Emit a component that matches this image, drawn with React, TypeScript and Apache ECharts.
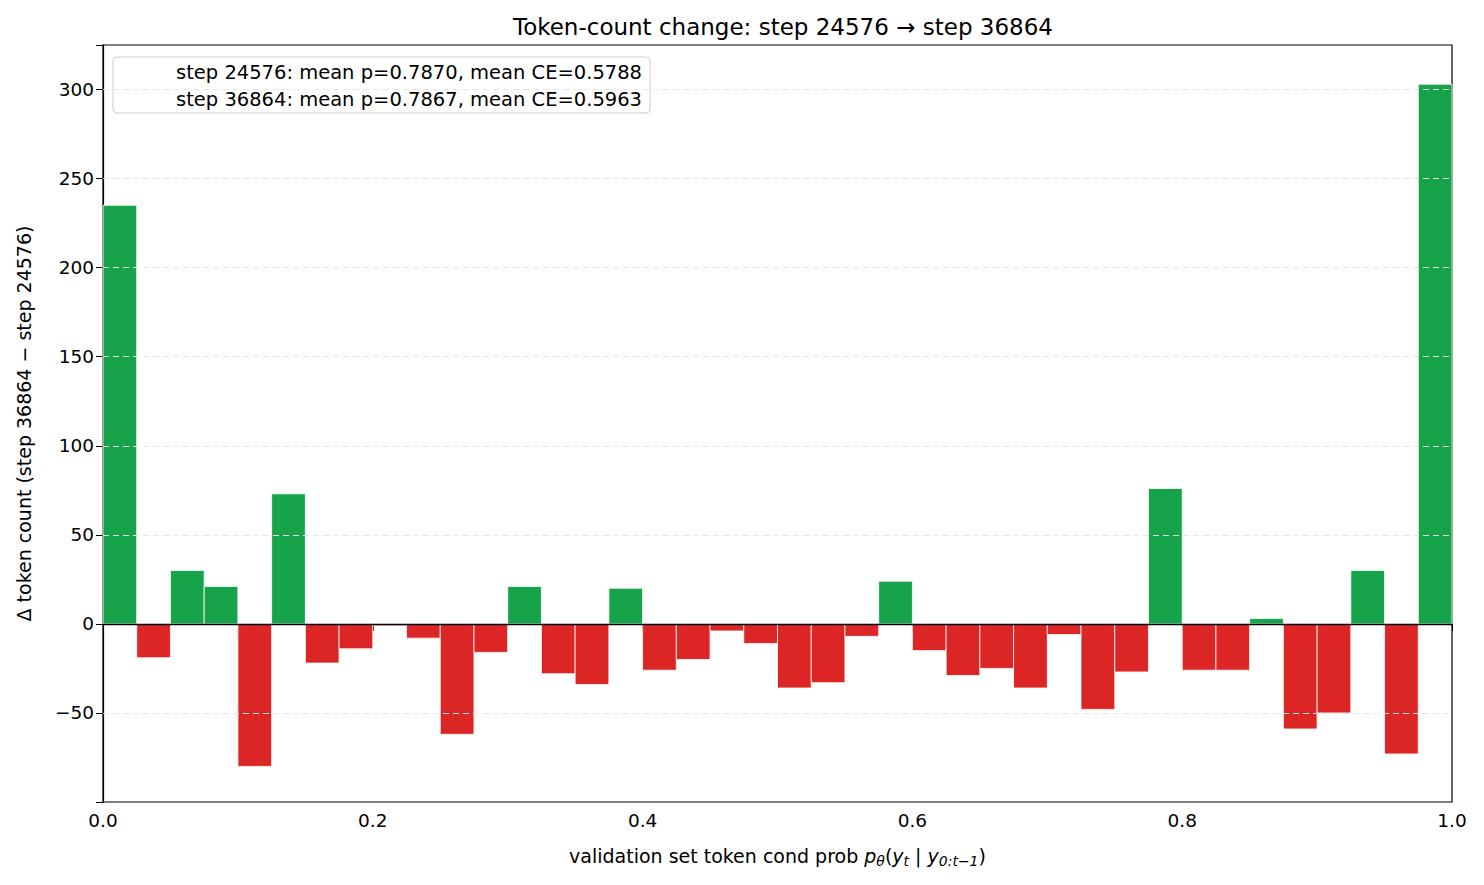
import React, { useRef, useEffect } from 'react'
import * as echarts from 'echarts'

const binWidth = 0.025
const deltas = [
  235, -19, 30, 21, -80, 73, -22, -14, -1, -8,
  -62, -16, 21, -28, -34, 20, -26, -20, -4, -11,
  -36, -33, -7, 24, -15, -29, -25, -36, -6, -48,
  -27, 76, -26, -26, 3, -59, -50, 30, -73, 303,
]
const legendLabels = [
  'step 24576: mean p=0.7870, mean CE=0.5788',
  'step 36864: mean p=0.7867, mean CE=0.5963',
]
const yTicks = [-50, 0, 50, 100, 150, 200, 250, 300]

function App() {
  const chartRef = useRef(null)

  useEffect(() => {
    const chart = echarts.init(chartRef.current, null, { renderer: 'svg' })
    const font = 'DejaVu Sans'
    const data = deltas.map((v, i) => [i * binWidth, v])

    const option = {
      animation: false,
      textStyle: { fontFamily: font, color: '#000' },
      title: {
        text: 'Token-count change: step 24576 \u2192 step 36864',
        left: 778,
        textAlign: 'center',
        top: 10,
        textStyle: { fontSize: 23, fontWeight: 'normal', fontFamily: font, color: '#000' },
      },
      legend: {
        left: 113,
        top: 57,
        orient: 'vertical',
        icon: 'none',
        itemWidth: 52,
        itemGap: 7,
        padding: [5, 8, 4, 6],
        borderColor: '#ccc',
        borderWidth: 1,
        borderRadius: 4,
        backgroundColor: 'rgba(255,255,255,0.8)',
        textStyle: { fontSize: 19.5, fontFamily: font, color: '#000' },
        data: legendLabels,
      },
      grid: { left: 103, right: 32, top: 45, bottom: 83, show: true, borderColor: '#000', borderWidth: 1.2 },
      xAxis: {
        type: 'value',
        min: 0,
        max: 1,
        interval: 0.2,
        splitLine: { show: false },
        axisLine: { lineStyle: { color: '#000', width: 1.2 } },
        axisTick: { show: true, length: 7, lineStyle: { color: '#000' } },
        axisLabel: { fontSize: 18.5, color: '#000', margin: 9, formatter: (v: number) => v.toFixed(1) },
        name: '{n|validation set token cond prob }{i|p}{s|\u03b8}{n|(}{i|y}{s|t}{n| | }{i|y}{s|0:t\u22121}{n|)}',
        nameLocation: 'middle',
        nameGap: 42,
        nameTextStyle: {
          rich: {
            n: { fontSize: 19, fontFamily: font, color: '#000' },
            i: { fontSize: 19, fontFamily: font, fontStyle: 'italic', color: '#000' },
            s: { fontSize: 14, fontFamily: font, fontStyle: 'italic', color: '#000', padding: [10, 0, 0, 0] },
          },
        },
      },
      yAxis: {
        type: 'value',
        min: -100,
        max: 325,
        interval: 50,
        axisLine: { show: true, lineStyle: { color: '#000', width: 1.2 } },
        axisTick: { show: true, length: 7, lineStyle: { color: '#000' } },
        axisLabel: {
          fontSize: 18.5,
          color: '#000',
          margin: 9,
          formatter: (v: number) => (yTicks.includes(v) ? (v < 0 ? '\u2212' + -v : String(v)) : ''),
        },
        splitLine: { show: false },
        name: '\u0394 token count (step 36864 \u2212 step 24576)',
        nameLocation: 'middle',
        nameGap: 70,
        nameTextStyle: { fontSize: 19, fontFamily: font, color: '#000' },
      },
      series: [
        {
          name: legendLabels[0],
          type: 'line',
          data: [],
          markLine: {
            silent: true,
            symbol: 'none',
            label: { show: false },
            lineStyle: { color: '#e6e6e6', type: [6, 4], width: 1 },
            data: yTicks.filter((t) => t !== 0).map((t) => ({ yAxis: t })),
          },
          z: 1,
        },
        { name: legendLabels[1], type: 'line', data: [] },
        {
          type: 'custom',
          data,
          renderItem: (params: any, api: any) => {
            const x0 = api.value(0)
            const v = api.value(1)
            const p0 = api.coord([x0, 0])
            const p1 = api.coord([x0 + binWidth, v])
            return {
              type: 'rect',
              shape: {
                x: p0[0],
                y: Math.min(p0[1], p1[1]),
                width: p1[0] - p0[0],
                height: Math.abs(p1[1] - p0[1]),
              },
              style: { fill: v >= 0 ? '#16a34a' : '#dc2626', stroke: '#fff', lineWidth: 0.8 },
            }
          },
          markLine: {
            silent: true,
            symbol: 'none',
            label: { show: false },
            lineStyle: { color: '#000', type: 'solid', width: 1.4 },
            data: [{ yAxis: 0 }],
          },
          z: 3,
        },
      ],
    }

    chart.setOption(option)
    return () => {
      chart.dispose()
    }
  }, [])

  return <div ref={chartRef} style={{ width: 1484, height: 885, margin: -8 }}></div>
}

export default App
